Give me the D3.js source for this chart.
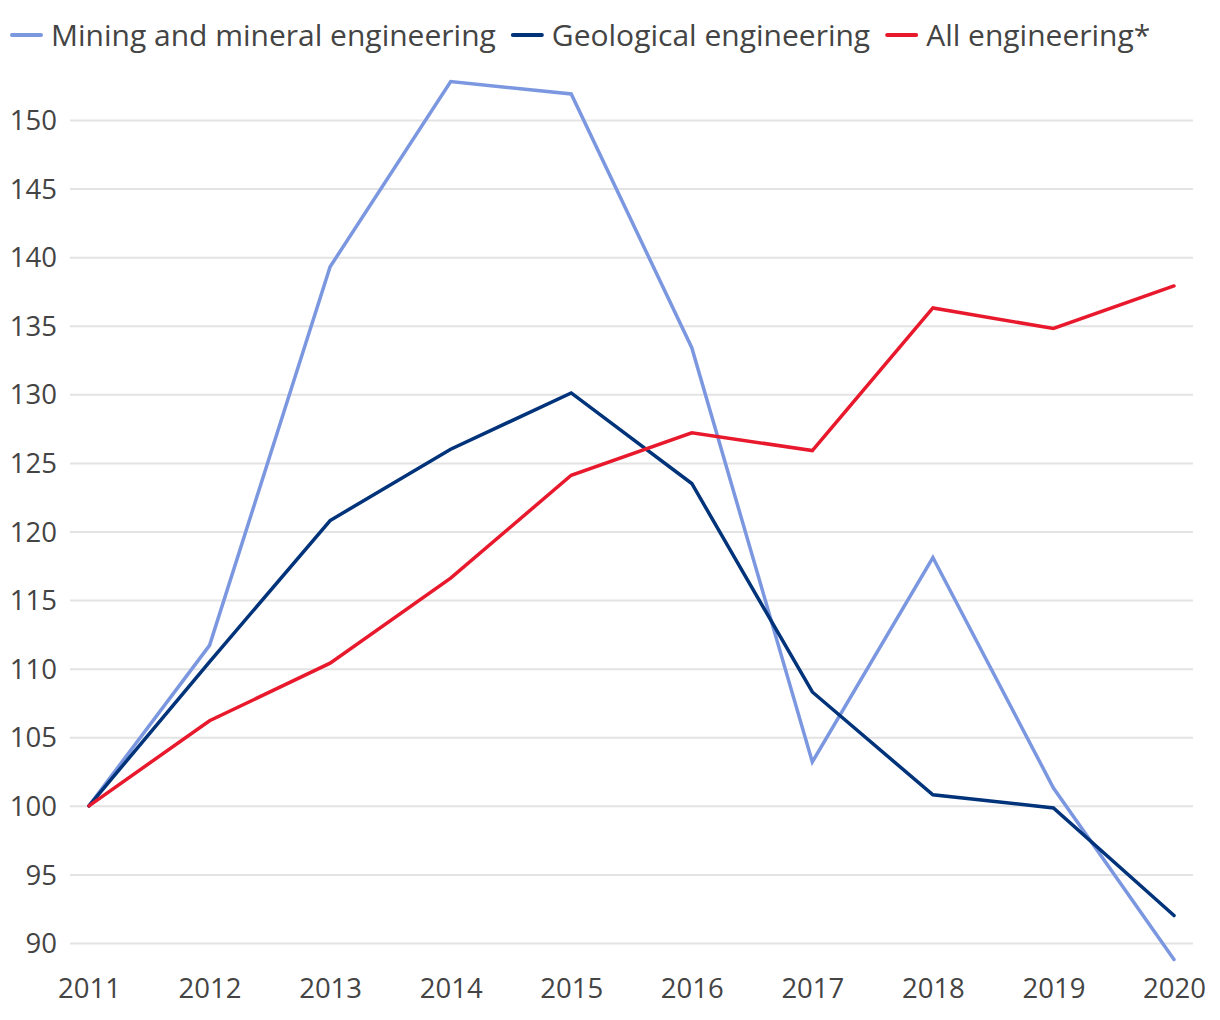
<!DOCTYPE html>
<html><head><meta charset="utf-8">
<script src="https://cdn.jsdelivr.net/npm/d3@7"></script>
<style>body{margin:0;background:#fff;} text{font-family:"Open Sans",sans-serif;fill:#444;}</style>
</head><body><svg id="c" width="1220" height="1020"></svg>
<script>
const years = [2011,2012,2013,2014,2015,2016,2017,2018,2019,2020];
const mining = [100,111.7,139.3,152.8,151.9,133.4,103.2,118.1,101.3,88.8];
const geological = [100,110.5,120.8,126.0,130.1,123.5,108.3,100.8,99.85,92.0];
const allEng = [100,106.2,110.4,116.6,124.1,127.2,125.9,136.3,134.8,137.9];
const yTicks = [90,95,100,105,110,115,120,125,130,135,140,145,150];
const seriesNames = ["Mining and mineral engineering","Geological engineering","All engineering*"];
const colors = ["#7b97e0","#00337a","#e8192c"];

const svg = d3.select("#c");
const x = d3.scalePoint().domain(years).range([89,1174]);
const y = d3.scaleLinear().domain([90,150]).range([943,120]);

const grid = svg.append("g").attr("transform","translate(70,0)")
  .call(d3.axisLeft(y).tickValues(yTicks).tickSize(-1123).tickPadding(13).tickFormat(d3.format("d")));
grid.select(".domain").remove();
grid.selectAll(".tick line").attr("stroke","#e3e3e3").attr("stroke-width",2);
grid.selectAll(".tick text").style("font-size","27.5px").attr("fill","#444").attr("dy","0.35em");

const xa = svg.append("g").attr("transform","translate(0,943)")
  .call(d3.axisBottom(x).tickSize(0).tickPadding(35).tickFormat(d3.format("d")));
xa.select(".domain").remove();
xa.selectAll(".tick text").style("font-size","27.5px").attr("fill","#444");

const line = d3.line().x((d,i)=>x(years[i])).y(d=>y(d));
[mining,geological,allEng].forEach((s,i)=>{
  svg.append("path").datum(s).attr("d",line).attr("fill","none")
    .attr("stroke",colors[i]).attr("stroke-width",3.5).attr("stroke-linejoin","miter").attr("stroke-linecap","round");
});

let lx = 12;
const lg = svg.append("g");
seriesNames.forEach((n,i)=>{
  lg.append("line").attr("x1",lx).attr("x2",lx+29).attr("y1",35).attr("y2",35)
    .attr("stroke",colors[i]).attr("stroke-width",4).attr("stroke-linecap","round");
  const t = lg.append("text").attr("x",lx+39).attr("y",46).style("font-size","30px").attr("fill","#444").text(n);
  lx = lx + 39 + t.node().getComputedTextLength() + 17;
});
</script></body></html>
